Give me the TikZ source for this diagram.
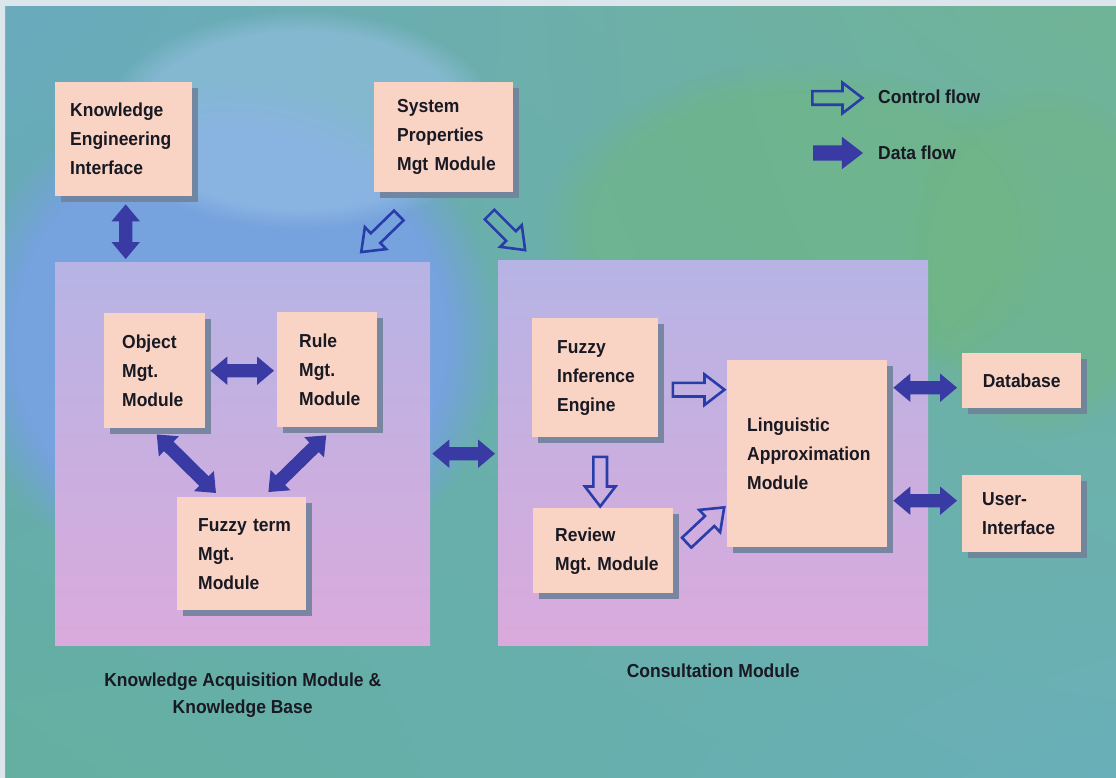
\documentclass[tikz,border=0pt]{standalone}
\usepackage{fontspec}
\newfontfamily\diagfont[FakeStretch=0.93]{Liberation Sans}
\usetikzlibrary{shapes.arrows,shadows,shadings,calc,fadings}

\definecolor{boxpink}{RGB}{249,212,197}
\definecolor{shadowgrey}{RGB}{112,130,155}
\definecolor{ctrlblue}{RGB}{40,60,170}
\definecolor{datablue}{RGB}{58,58,165}
\definecolor{paneltop}{RGB}{182,180,228}
\definecolor{panelbottom}{RGB}{218,170,220}
\definecolor{bgtl}{RGB}{105,170,190}
\definecolor{bgtr}{RGB}{112,180,150}
\definecolor{bgbl}{RGB}{100,175,160}
\definecolor{bgbr}{RGB}{105,175,185}
\definecolor{bgblue}{RGB}{118,162,222}
\definecolor{bglight}{RGB}{150,192,228}
\definecolor{bggreen}{RGB}{112,182,130}
\definecolor{framegrey}{RGB}{218,230,236}
\definecolor{textdark}{RGB}{25,25,35}

\newcommand{\boxfont}{\diagfont\bfseries\fontsize{18.8}{29}\selectfont
  \hyphenpenalty=10000 \exhyphenpenalty=10000 }

% fat arrow node stretched from #2 to #3
\newcommand{\flowarrow}[3]{%
  \path let \p1=($(#3)-(#2)$), \n1={atan2(\y1,\x1)}, \n2={veclen(\x1,\y1)} in
    node[#1, minimum height=\n2, rotate=\n1] at ($(#2)!0.5!(#3)$) {};}

\begin{document}
\begin{tikzpicture}[x=1pt,y=-1pt,
    box/.style={fill=boxpink,anchor=north west,inner xsep=0pt,inner ysep=0pt,
                align=left,text=textdark,font=\boxfont,
                drop shadow={shadow xshift=6pt,shadow yshift=-6pt,fill=shadowgrey,opacity=0.9}},
    panel/.style={anchor=north west,inner sep=0pt,top color=paneltop,bottom color=panelbottom},
    caption/.style={align=center,inner sep=0pt,text=textdark,
                    font=\diagfont\bfseries\fontsize{18.8}{27}\selectfont},
    ctrl/.style={single arrow,draw=ctrlblue,line width=2.6pt,inner xsep=0pt,inner ysep=5.5pt,
                 single arrow head extend=8.5pt,single arrow tip angle=75},
    data/.style={double arrow,fill=datablue,draw=none,inner xsep=0pt,inner ysep=6.5pt,
                 double arrow head extend=7.5pt,double arrow tip angle=80},
    legdata/.style={single arrow,fill=datablue,draw=none,inner xsep=0pt,inner ysep=7.5pt,
                 single arrow head extend=8.5pt,single arrow tip angle=75}]

  % background
  \useasboundingbox (0,0) rectangle (1116,778);
  \shade[upper left=bgtl,upper right=bgtr,lower left=bgbl,lower right=bgbr]
    (0,0) rectangle (1116,778);
  \fill[bgblue,path fading=circle with fuzzy edge 20 percent] (230,340) ellipse (270 and 260);
  \fill[bglight,opacity=0.6,path fading=circle with fuzzy edge 20 percent] (300,120) ellipse (200 and 110);
  \fill[bggreen,opacity=0.6,path fading=circle with fuzzy edge 20 percent] (800,230) ellipse (260 and 170);
  \fill[bggreen,opacity=0.5,path fading=circle with fuzzy edge 20 percent] (1040,260) ellipse (140 and 180);
  \fill[framegrey] (0,0) rectangle (1116,6) (0,0) rectangle (5,778);

  % panels
  \node[panel,minimum width=375pt,minimum height=383pt] (kam) at (55,262) {};
  \node[panel,minimum width=430pt,minimum height=385pt] (cons) at (498,260) {};
  \node[caption,below=27pt] at (kam.south) {Knowledge Acquisition Module \&\\Knowledge Base};
  \node[caption,below=18pt] at (cons.south) {Consultation Module};

  % boxes
  \node[box,minimum width=137pt,minimum height=114pt,text width=107pt] (kei) at (55,82)
    {Knowledge\\Engineering\\Interface};
  \node[box,minimum width=139pt,minimum height=110pt,text width=93pt] (spm) at (374,82)
    {System\\Properties\\Mgt~Module};
  \node[box,minimum width=101pt,minimum height=115pt,text width=65pt] (obj) at (104,313)
    {Object\\Mgt.\\Module};
  \node[box,minimum width=100pt,minimum height=115pt,text width=56pt] (rule) at (277,312)
    {Rule\\Mgt.\\Module};
  \node[box,minimum width=129pt,minimum height=113pt,text width=87pt] (ft) at (177,497)
    {Fuzzy~term\\Mgt.\\Module};
  \node[box,minimum width=126pt,minimum height=119pt,text width=76pt] (fie) at (532,318)
    {Fuzzy\\Inference\\Engine};
  \node[box,minimum width=140pt,minimum height=85pt,text width=96pt] (rev) at (533,508)
    {Review\\Mgt.~Module};
  \node[box,minimum width=160pt,minimum height=187pt,text width=120pt] (lam) at (727,360)
    {Linguistic\\Approximation\\Module};
  \node[box,minimum width=119pt,minimum height=55pt,text width=119pt,align=center] (db) at (962,353)
    {Database};
  \node[box,minimum width=119pt,minimum height=77pt,text width=79pt] (ui) at (962,475)
    {User-\\Interface};

  % legend
  \node[caption,anchor=west] (ctrltxt) at (878,97) {Control flow};
  \node[caption,anchor=west] (datatxt) at (878,153) {Data flow};
  \coordinate (lc1) at ($(ctrltxt.west)+(-70,1)$);
  \coordinate (lc2) at ($(ctrltxt.west)+(-20,1)$);
  \coordinate (ld1) at ($(datatxt.west)+(-70,0)$);
  \coordinate (ld2) at ($(datatxt.west)+(-20,0)$);
  \flowarrow{ctrl}{lc1}{lc2}
  \flowarrow{legdata}{ld1}{ld2}

  % control flow
  \coordinate (c1a) at ($(spm.south west)+(28,20)$);
  \coordinate (c1b) at ($(kam.north east)+(-66,-13)$);
  \coordinate (c2a) at ($(spm.south east)+(-27,19)$);
  \coordinate (c2b) at ($(cons.north west)+(24,-13)$);
  \coordinate (c3a) at ($(fie.east)+(10,12)$);
  \coordinate (c3b) at ($(lam.west |- c3a)+(-7,0)$);
  \coordinate (c4a) at ($(fie.south)+(5,15)$);
  \coordinate (c4b) at ($(rev.north)+(-3,-6)$);
  \coordinate (c5a) at ($(rev.east)+(10,-5)$);
  \coordinate (c5b) at ($(lam.south west)+(-6,-37)$);
  \flowarrow{ctrl}{c1a}{c1b}
  \flowarrow{ctrl}{c2a}{c2b}
  \flowarrow{ctrl}{c3a}{c3b}
  \flowarrow{ctrl}{c4a}{c4b}
  \flowarrow{ctrl}{c5a}{c5b}

  % data flow
  \coordinate (d1a) at ($(kei.south)+(2,8)$);
  \coordinate (d1b) at ($(kei.south |- kam.north)+(2,-3)$);
  \coordinate (d2a) at ($(obj.east)+(5,0)$);
  \coordinate (d2b) at ($(rule.west |- d2a)+(-3,0)$);
  \coordinate (d3a) at ($(obj.south)+(2,6)$);
  \coordinate (d3b) at ($(ft.north west)+(39,-4)$);
  \coordinate (d4a) at ($(rule.south)+(-1,8)$);
  \coordinate (d4b) at ($(ft.north east)+(-38,-5)$);
  \coordinate (d5a) at ($(kam.east)+(2,0)$);
  \coordinate (d5b) at ($(kam.east -| cons.west)+(-3,0)$);
  \coordinate (d6a) at ($(lam.east |- db.west)+(6,7)$);
  \coordinate (d6b) at ($(db.west)+(-5,7)$);
  \coordinate (d7a) at ($(lam.east |- ui.west)+(6,-13)$);
  \coordinate (d7b) at ($(ui.west)+(-5,-13)$);
  \flowarrow{data}{d1a}{d1b}
  \flowarrow{data}{d2a}{d2b}
  \flowarrow{data}{d3a}{d3b}
  \flowarrow{data}{d4a}{d4b}
  \flowarrow{data}{d5a}{d5b}
  \flowarrow{data}{d6a}{d6b}
  \flowarrow{data}{d7a}{d7b}
\end{tikzpicture}
\end{document}
